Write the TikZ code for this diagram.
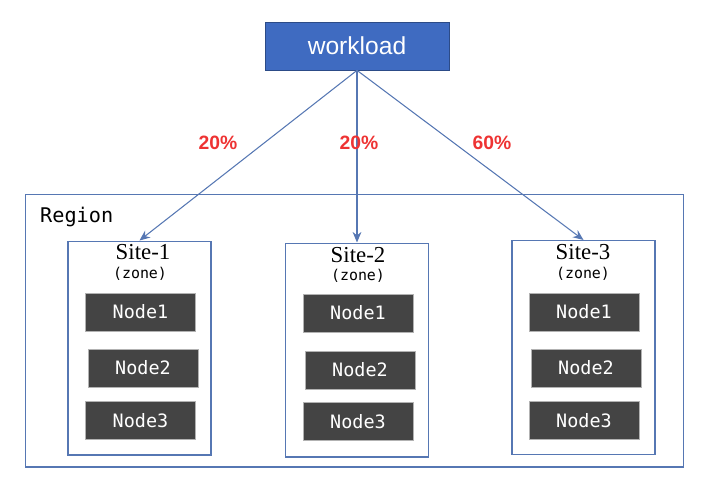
\documentclass[tikz,border=0pt]{standalone}
\usepackage{fontspec}
\setmainfont{Liberation Serif}
\setsansfont{Liberation Sans}
\setmonofont{DejaVu Sans Mono}
\usetikzlibrary{positioning,arrows.meta}
\definecolor{loadblue}{HTML}{3F6BC1}
\definecolor{edgeblue}{HTML}{5677B3}
\definecolor{boxgray}{HTML}{444444}
\definecolor{pctred}{HTML}{EE3333}
\begin{document}
\begin{tikzpicture}
            [x=0.02cm, y=-0.02cm,
             load/.style = {fill=loadblue, draw=loadblue!70!black, minimum width=3.68cm, minimum height=0.96cm, text=white, font=\sffamily\fontsize{14}{16}\selectfont},
             region/.style = {draw=edgeblue, line width=0.6pt, minimum width=13.18cm, minimum height=5.46cm},
             site/.style = {draw=edgeblue, line width=0.6pt, minimum width=2.86cm, minimum height=4.28cm},
             machine/.style = {fill=boxgray, draw=gray!60, minimum width=2.2cm, minimum height=0.76cm, text=white, font=\ttfamily\fontsize{10.5}{12}\selectfont},
             pct/.style = {text=pctred, font=\sffamily\bfseries\fontsize{11}{13}\selectfont},
             link/.style = {draw=edgeblue, line width=0.6pt, -{Stealth[length=6pt, width=5pt]}}]
            \useasboundingbox (0,0) rectangle (706,478);
            \node[load] (W) at (357,46) {workload};
            \node[region] (R) at (354.5,330.5) {};
            \node[font=\ttfamily\fontsize{11.5}{13}\selectfont, anchor=west] (RL) at (34,217) {Region};
            \node[site] (S1) at (139.5,348) {};
            \node[site] (S2) at (357,350) {};
            \node[site] (S3) at (583.5,347.5) {};
            \node[font=\fontsize{13}{15}\selectfont] (T1) at (143,252) {Site-1};
            \node[font=\fontsize{13}{15}\selectfont] (T2) at (358,255) {Site-2};
            \node[font=\fontsize{13}{15}\selectfont] (T3) at (583,252) {Site-3};
            \node[font=\ttfamily\fontsize{8.5}{10}\selectfont] (Z1) at (140,274) {(zone)};
            \node[font=\ttfamily\fontsize{8.5}{10}\selectfont] (Z2) at (358,276) {(zone)};
            \node[font=\ttfamily\fontsize{8.5}{10}\selectfont] (Z3) at (583,274) {(zone)};
            \node[machine] (A1) at (140.5,312) {Node1};
            \node[machine] (A2) at (143,368) {Node2};
            \node[machine] (A3) at (140.5,420.5) {Node3};
            \node[machine] (B1) at (358,313) {Node1};
            \node[machine] (B2) at (360,370) {Node2};
            \node[machine] (B3) at (358,421.5) {Node3};
            \node[machine] (C1) at (584,312) {Node1};
            \node[machine] (C2) at (586,368) {Node2};
            \node[machine] (C3) at (584,420.5) {Node3};
            \draw[link] (W.south) -- (S1.north);
            \draw[link] (W.south) -- (S2.north);
            \draw[link] (W.south) -- (S3.north);
            \node[pct] (P1) at (218,143) {20\%};
            \node[pct] (P2) at (359,143) {20\%};
            \node[pct] (P3) at (492,143) {60\%};
        \end{tikzpicture}
\end{document}
